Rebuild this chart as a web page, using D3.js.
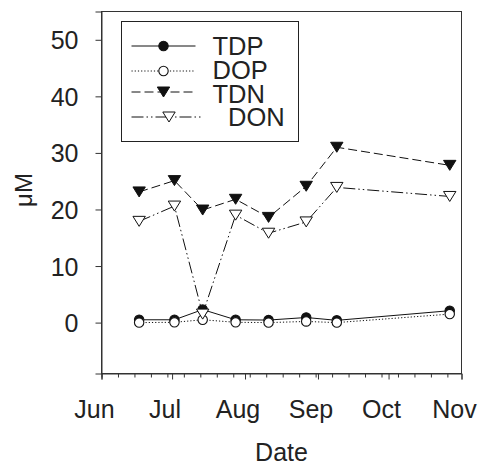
<!DOCTYPE html>
<html>
<head>
<meta charset="utf-8">
<script src="https://cdn.jsdelivr.net/npm/d3@7"></script>
<style>
  html, body { margin: 0; padding: 0; background: #fff; }
  svg { display: block; font-family: "Liberation Sans", Arial, Helvetica, sans-serif; }
</style>
</head>
<body>
<svg id="chart" width="483" height="466"></svg>
<script>
// ---- data ----
const sampleDates = ["2003-06-17", "2003-07-02", "2003-07-14", "2003-07-28", "2003-08-11", "2003-08-27", "2003-09-09", "2003-10-27"];
const tdp = [0.5, 0.5, 2.3, 0.5, 0.45, 0.9, 0.4, 2.1];
const dop = [0.0, 0.05, 0.5, 0.05, 0.0, 0.2, 0.0, 1.5];
const tdn = [23.1, 25.1, 19.9, 21.8, 18.6, 24.1, 31.0, 27.8];
const don = [17.9, 20.6, 1.5, 19.0, 15.8, 17.8, 23.9, 22.3];
const monthLabels = ["Jun", "Jul", "Aug", "Sep", "Oct", "Nov"];
const monthTicks = ["2003-06-01", "2003-07-01", "2003-08-01", "2003-09-01", "2003-10-01", "2003-11-01"];
const yTicks = [0, 10, 20, 30, 40, 50];
const seriesNames = ["TDP", "DOP", "TDN", "DON"];

// ---- setup ----
const parse = d3.utcParse("%Y-%m-%d");
const svg = d3.select("#chart");
const ink = "#222";
const pL = 101.5, pR = 461.5, pT = 11.5, pB = 373.5;

const x = d3.scaleUtc()
  .domain([parse(monthTicks[0]), parse(monthTicks[monthTicks.length - 1])])
  .range([pL, pR]);
const y = d3.scaleLinear().domain([-9, 55]).range([pB, pT]);

// frame
svg.append("rect")
  .attr("x", pL).attr("y", pT)
  .attr("width", pR - pL).attr("height", pB - pT)
  .attr("fill", "none").attr("stroke", "#333").attr("stroke-width", 1);

// x axis minor (weekly) ticks
const weekly = d3.utcDay.range(x.domain()[0], d3.utcDay.offset(x.domain()[1], 1), 7);
const xMinor = svg.append("g").attr("transform", `translate(0,${pB})`)
  .call(d3.axisBottom(x).tickValues(weekly).tickSize(4).tickFormat(""));
xMinor.select(".domain").remove();
xMinor.selectAll("line").attr("stroke", "#333");

// x axis major ticks
const xMajor = svg.append("g").attr("transform", `translate(0,${pB})`)
  .call(d3.axisBottom(x).tickValues(monthTicks.map(parse)).tickSize(6)
    .tickFormat((d, i) => monthLabels[i]));
xMajor.select(".domain").attr("stroke", "#333");
xMajor.selectAll("line").attr("stroke", "#333");
xMajor.selectAll("text")
  .attr("y", 44).attr("dy", 0).attr("x", -7.5)
  .attr("fill", ink).attr("font-size", 25)
  .attr("font-family", "Liberation Sans, Arial, sans-serif");

// y axis
const yAxis = svg.append("g").attr("transform", `translate(${pL},0)`)
  .call(d3.axisLeft(y).tickValues(yTicks).tickSize(6).tickPadding(17).tickFormat(d3.format("d")));
yAxis.select(".domain").attr("stroke", "#333");
yAxis.selectAll("line").attr("stroke", "#333");
yAxis.selectAll("text")
  .attr("fill", ink).attr("font-size", 25).attr("dy", "0.36em")
  .attr("font-family", "Liberation Sans, Arial, sans-serif");

// axis titles
svg.append("text")
  .attr("x", (pL + pR) / 2).attr("y", 461)
  .attr("text-anchor", "middle").attr("font-size", 25).attr("fill", ink)
  .text("Date");
svg.append("text")
  .attr("transform", "translate(32,190) rotate(-90)")
  .attr("text-anchor", "middle").attr("font-size", 24).attr("fill", ink)
  .text("μM");

// ---- markers ----
const triDown = (s) => {
  const w = s * 0.62, h = s * 0.5;
  return `M${-w},${-h}L${w},${-h}L0,${h}Z`;
};
const styles = {
  TDP: { dash: null, marker: "circle", fill: "#111" },
  DOP: { dash: "1.2,2", marker: "circle", fill: "#fff" },
  TDN: { dash: "9,4", marker: "tri", fill: "#111" },
  DON: { dash: "12,3,1.5,3,1.5,3", marker: "tri", fill: "#fff" }
};
const seriesValues = { TDP: tdp, DOP: dop, TDN: tdn, DON: don };

function drawMarker(g, type, fill, cx, cy) {
  if (type === "circle") {
    g.append("circle").attr("cx", cx).attr("cy", cy).attr("r", 4.7)
      .attr("fill", fill).attr("stroke", "#111").attr("stroke-width", 1.1);
  } else {
    g.append("path").attr("d", triDown(10)).attr("transform", `translate(${cx},${cy})`)
      .attr("fill", fill).attr("stroke", "#111").attr("stroke-width", 1);
  }
}

const line = d3.line().x(d => x(d.date)).y(d => y(d.v));
seriesNames.forEach(name => {
  const st = styles[name];
  const pts = sampleDates.map((d, i) => ({ date: parse(d), v: seriesValues[name][i] }));
  const g = svg.append("g");
  g.append("path").datum(pts).attr("d", line)
    .attr("fill", "none").attr("stroke", "#111").attr("stroke-width", 1)
    .attr("stroke-dasharray", st.dash);
  pts.forEach(p => drawMarker(g, st.marker, st.fill, x(p.date), y(p.v)));
});

// ---- legend ----
const lg = svg.append("g");
lg.append("rect").attr("x", 121.5).attr("y", 21.5).attr("width", 177).attr("height", 120)
  .attr("fill", "#fff").attr("stroke", "#222").attr("stroke-width", 1);
const rowsY = [46, 71, 92, 117];
const lineEnds = [[131.5, 195.5, 163.5], [131.5, 195.5, 163.5], [131.5, 195.5, 163.5], [131.5, 203, 169]];
const textX = [212.5, 212.5, 212.5, 228];
const textBase = [55, 78.5, 102.5, 125.5];
seriesNames.forEach((name, i) => {
  const st = styles[name];
  const [x0, x1, xm] = lineEnds[i];
  lg.append("line").attr("x1", x0).attr("x2", x1).attr("y1", rowsY[i]).attr("y2", rowsY[i])
    .attr("stroke", "#111").attr("stroke-width", 1).attr("stroke-dasharray", st.dash);
  drawMarker(lg, st.marker, st.fill, xm, rowsY[i]);
  lg.append("text").attr("x", textX[i]).attr("y", textBase[i])
    .attr("font-size", 25.5).attr("fill", ink).text(name);
});
</script>
</body>
</html>
